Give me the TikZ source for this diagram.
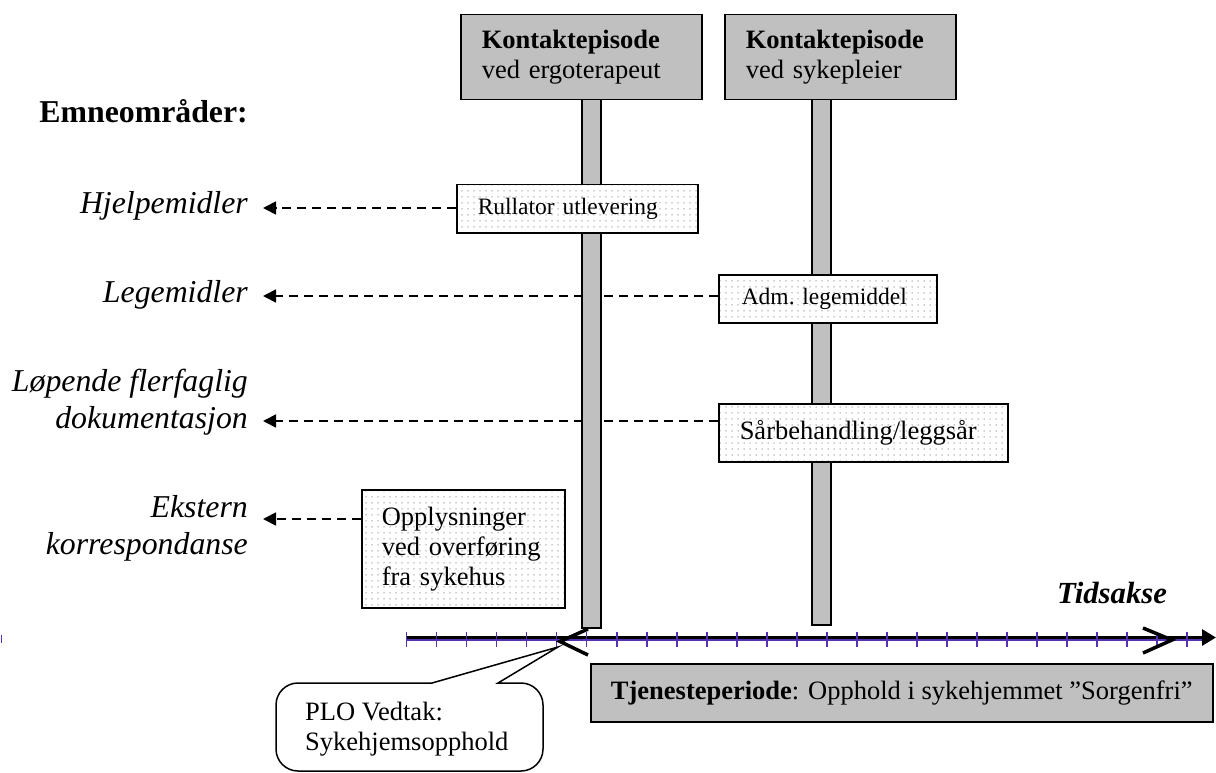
\documentclass[tikz,border=0pt]{standalone}
\usepackage{fontspec}
\setmainfont{Liberation Serif}
\usetikzlibrary{arrows.meta,patterns.meta,backgrounds}
\definecolor{boxgray}{RGB}{192,192,192}
\definecolor{tickpurple}{RGB}{88,48,180}
\definecolor{dotgray}{RGB}{160,160,160}
\tikzset{
 hdr/.style={draw, line width=1.5pt, fill=boxgray, anchor=north west, align=left, inner xsep=21pt, inner ysep=0pt, font=\fontsize{26.5}{30}\selectfont},
 bar/.style={draw, line width=1.5pt, fill=boxgray, minimum width=19pt, anchor=north, inner sep=0pt},
 dotbox/.style={draw, line width=1.5pt, preaction={fill=white}, pattern={Dots[distance=6pt,radius=0.75pt]}, pattern color=dotgray, anchor=north west, align=left, inner ysep=0pt},
 smalltxt/.style={font=\fontsize{23.5}{27}\selectfont},
 midtxt/.style={font=\fontsize{26.5}{30}\selectfont},
 topic/.style={font=\fontsize{31.8}{37}\selectfont\itshape, align=right, inner sep=0pt, anchor=base east},
 dasharrow/.style={line width=1.8pt, dash pattern=on 9pt off 6pt, -{Triangle[length=13pt,width=13pt]}},
 tickln/.style={tickpurple, line width=1.6pt},
 pmark/.style={line width=3.5pt, line join=miter},
}
\begin{document}
\begin{tikzpicture}[x=1pt,y=-1pt]
\useasboundingbox (0,0) rectangle (1216,773);

% bars
\node[bar, minimum height=528pt] (b1) at (591.5,99) {};
\node[bar, minimum height=525pt] (b2) at (821.5,99) {};

% header boxes
\node[hdr, text width=199pt, minimum height=85pt] (h1) at (460,14) {\textbf{Kontaktepisode}\\ved ergoterapeut};
\node[hdr, text width=189pt, minimum height=85pt] (h2) at (724,14) {\textbf{Kontaktepisode}\\ved sykepleier};

% dotted boxes
\node[dotbox, smalltxt, inner xsep=21pt, text width=199pt, minimum height=48pt] (rull) at (456,184) {Rullator utlevering};
\node[dotbox, smalltxt, inner xsep=23pt, text width=172pt, minimum height=48pt] (adm) at (718,274) {Adm.\ legemiddel};
\node[dotbox, midtxt, inner xsep=21pt, text width=247pt, minimum height=58pt] (sar) at (718,403) {Sårbehandling/leggsår};
\node[dotbox, midtxt, inner xsep=20pt, text width=163pt, minimum height=118pt] (opp) at (361,489) {Opplysninger\\ved overføring\\fra sykehus};

% labels
\node[font=\fontsize{31.8}{36}\selectfont\bfseries, anchor=base east, inner sep=0pt] (emne) at (248,123) {Emneområder:};
\node[topic] (hj) at (248,213) {Hjelpemidler};
\node[topic] (lg) at (248,302) {Legemidler};
\node[topic] (lo) at (248,428) {Løpende flerfaglig\\dokumentasjon};
\node[topic] (ek) at (248,554) {Ekstern\\korrespondanse};

\coordinate (ahj) at (263,208);
\coordinate (alg) at (263,296);
\coordinate (alo) at (263,421);
\coordinate (aek) at (263,519);

\begin{pgfonlayer}{background}
\draw[dasharrow] (rull.west |- ahj) -- (ahj);
\draw[dasharrow] (adm.west |- alg) -- (alg);
\draw[dasharrow] (sar.west |- alo) -- (alo);
\draw[dasharrow] (opp.west |- aek) -- (aek);
\end{pgfonlayer}

% time axis
\coordinate (t0) at (406,640);
\coordinate (t1) at (1205,640);
\coordinate (a0) at (406,637.5);
\coordinate (a1) at (1216,637.5);
\draw[tickpurple, line width=2.5pt] (t0) -- (t1);
\draw[line width=3pt, -{Triangle[length=14pt,width=16pt]}] (a0) -- (a1);
\foreach \i in {0,...,26} \draw[tickln] (406.5+30.03*\i,632) -- ++(0,15);
\draw[tickln] (1.5,635) -- (1.5,643);

\node[font=\fontsize{30.7}{34}\selectfont\bfseries\itshape, anchor=base west, inner sep=0pt] (tid) at (1057,603) {Tidsakse};

% period marks
\coordinate (lt) at (560,641.5);
\coordinate (gt) at (1172,640);
\draw[pmark] (588,629) -- (lt) -- (588,655);
\draw[pmark] (1143,628) -- (gt) -- (1143,653);

% service period
\node[draw, line width=1.5pt, fill=boxgray, anchor=north west, minimum width=622pt, minimum height=58pt, inner sep=0pt, midtxt] (tj) at (590,663) {\textbf{Tjenesteperiode}: Opphold i sykehjemmet ”Sorgenfri”};

% callout
\coordinate (ctip) at (558,647);
\draw[line width=1.5pt, fill=white] (432,683) -- (ctip) -- (498,683) [rounded corners=22pt] -- (543,683) -- (543,771) -- (276,771) -- (276,683) -- (432,683);
\node[midtxt, align=left, anchor=base west, inner sep=0pt] (plo) at (305,750) {PLO Vedtak:\\Sykehjemsopphold};
\end{tikzpicture}
\end{document}
